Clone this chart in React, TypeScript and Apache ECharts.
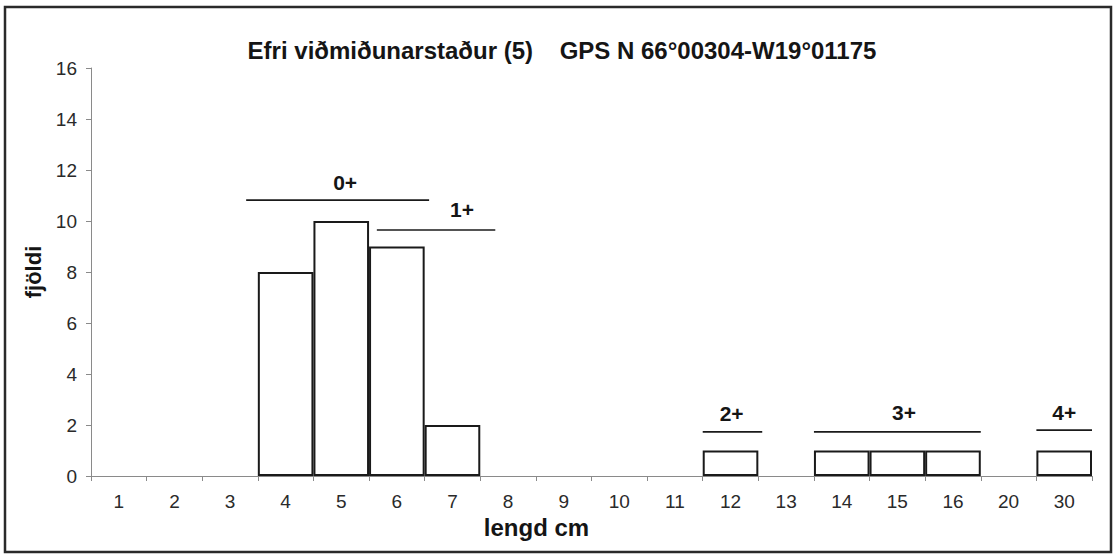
import React, { useEffect, useRef } from "react";
import * as echarts from "echarts";

const lengthCategories = ["1", "2", "3", "4", "5", "6", "7", "8", "9", "10", "11", "12", "13", "14", "15", "16", "20", "30"];
const counts = [0, 0, 0, 8, 10, 9, 2, 0, 0, 0, 0, 1, 0, 1, 1, 1, 0, 1];
const yTicks = [0, 2, 4, 6, 8, 10, 12, 14, 16];

// Age-group annotations, x in category-band units (0 = left edge of first bar)
const ageGroups = ["0+", "1+", "2+", "3+", "4+"];
const ageStart = [2.79, 5.14, 11.0, 13.0, 17.0];
const ageEnd = [6.08, 7.27, 12.07, 16.0, 18.0];
const ageLineY = [10.82, 9.65, 1.73, 1.73, 1.8];
const ageLabelX = [4.57, 6.67, 11.52, 14.62, 17.5];
const ageLabelY = [11.5, 10.47, 2.45, 2.5, 2.5];

const titleText = "Efri viðmiðunarstaður (5)    GPS N 66°00304-W19°01175";
const xName = "lengd cm";
const yName = "fjöldi";

export default function App() {
  const ref = useRef<HTMLDivElement>(null);
  useEffect(() => {
    if (!ref.current) return;
    const chart = echarts.init(ref.current, null, { renderer: "svg" });
    const font = "Liberation Sans, Arial, sans-serif";
    const annotationLines = ageGroups.map((g, i) => ({
      type: "line",
      xAxisIndex: 1,
      yAxisIndex: 0,
      data: [
        [ageStart[i], ageLineY[i]],
        [ageEnd[i], ageLineY[i]],
      ],
      symbol: "none",
      lineStyle: { color: "#1a1a1a", width: 1.6 },
      silent: true,
      z: 5,
    }));
    const annotationLabels = {
      type: "scatter",
      xAxisIndex: 1,
      yAxisIndex: 0,
      symbolSize: 0,
      silent: true,
      itemStyle: { opacity: 1 },
      data: ageGroups.map((g, i) => ({
        value: [ageLabelX[i], ageLabelY[i]],
        name: g,
        label: {
          show: true,
          position: "inside",
          formatter: g,
          color: "#151515",
          fontSize: 21,
          fontWeight: "bold",
          fontFamily: font,
        },
      })),
      z: 6,
    };
    chart.setOption({
      animation: false,
      backgroundColor: "#ffffff",
      title: {
        text: titleText,
        left: 557,
        top: 33,
        textAlign: "center",
        textStyle: { fontSize: 24, fontWeight: "bold", color: "#151515", fontFamily: font },
      },
      grid: { left: 91, right: 22, top: 68, bottom: 80, containLabel: false },
      xAxis: [
        {
          type: "category",
          data: lengthCategories,
          boundaryGap: true,
          name: xName,
          nameLocation: "middle",
          nameGap: 39,
          nameTextStyle: {
            fontSize: 24,
            fontWeight: "bold",
            color: "#151515",
            fontFamily: font,
            padding: [0, 110, 0, 0],
          },
          axisLine: { lineStyle: { color: "#8a8a8a", width: 1 } },
          axisTick: { show: true, length: 5, lineStyle: { color: "#8a8a8a" } },
          axisLabel: { fontSize: 19, color: "#2a2a2a", margin: 16, fontFamily: font },
          splitLine: { show: false },
        },
        {
          type: "value",
          min: 0,
          max: lengthCategories.length,
          show: false,
          position: "bottom",
          splitLine: { show: false },
        },
      ],
      yAxis: {
        type: "value",
        min: yTicks[0],
        max: yTicks[yTicks.length - 1],
        interval: 2,
        name: yName,
        nameLocation: "middle",
        nameGap: 45,
        nameTextStyle: { fontSize: 22, fontWeight: "bold", color: "#151515", fontFamily: font },
        axisLine: { show: true, lineStyle: { color: "#8a8a8a", width: 1 } },
        axisTick: { show: true, length: 5, lineStyle: { color: "#8a8a8a" } },
        axisLabel: { fontSize: 19, color: "#2a2a2a", margin: 14, fontFamily: font },
        splitLine: { show: false },
      },
      graphic: [
        {
          type: "rect",
          shape: { x: 5, y: 7, width: 1106, height: 545 },
          style: { fill: "none", stroke: "#2a2a2a", lineWidth: 2.5 },
          silent: true,
          z: 100,
        },
      ],
      series: [
        {
          type: "bar",
          xAxisIndex: 0,
          yAxisIndex: 0,
          data: counts.map((v) => (v === 0 ? { value: 0, itemStyle: { borderWidth: 0 } } : v)),
          barCategoryGap: "0%",
          itemStyle: { color: "#ffffff", borderColor: "#1a1a1a", borderWidth: 2 },
          z: 3,
        },
        ...annotationLines,
        annotationLabels,
      ],
    });
    return () => chart.dispose();
  }, []);
  return (
    <div
      ref={ref}
      style={{ position: "absolute", left: 0, top: 0, width: 1114, height: 556, background: "#fff" }}
    />
  );
}
